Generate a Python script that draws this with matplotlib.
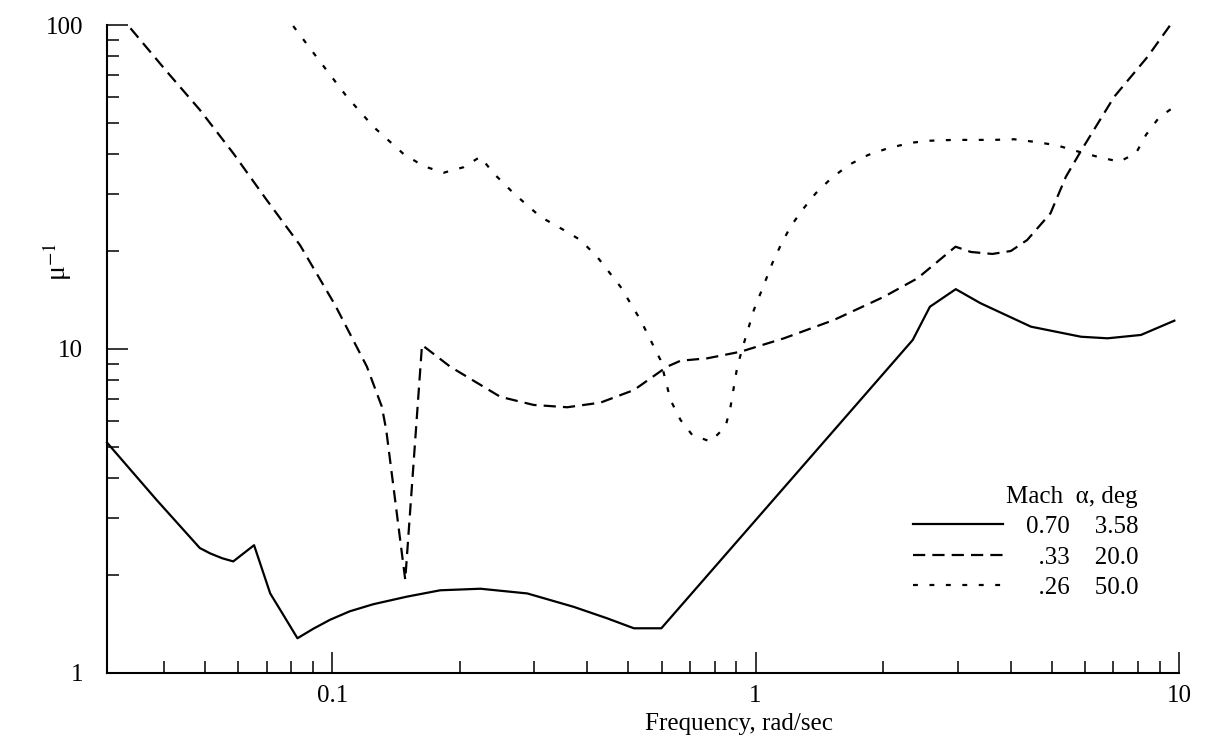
import matplotlib
matplotlib.use("Agg")
import matplotlib.pyplot as plt
from matplotlib.ticker import FixedLocator, NullFormatter

plt.rcParams['font.family'] = ['Liberation Serif', 'DejaVu Serif']
plt.rcParams['mathtext.fontset'] = 'stix'

# Mach 0.70, alpha 3.58 deg
freq_a = [0.0294, 0.0385, 0.0487, 0.0515, 0.0550, 0.0584, 0.0654, 0.0714, 0.0767,
          0.0828, 0.0903, 0.0989, 0.110, 0.125, 0.150, 0.180, 0.224, 0.289, 0.372,
          0.446, 0.516, 0.599, 2.35, 2.58, 2.97, 3.40, 4.47, 5.87, 6.78, 8.13, 9.75]
mu_a = [5.14, 3.42, 2.43, 2.34, 2.26, 2.21, 2.48, 1.76, 1.51,
        1.28, 1.37, 1.46, 1.55, 1.63, 1.72, 1.80, 1.82, 1.76, 1.60,
        1.475, 1.374, 1.374, 10.66, 13.5, 15.3, 13.84, 11.72, 10.91, 10.79, 11.05, 12.23]

# Mach .33, alpha 20.0 deg
freq_b = [0.0334, 0.0407, 0.0487, 0.0584, 0.0701, 0.0840, 0.1016, 0.1208, 0.131,
          0.1342, 0.1488, 0.163, 0.190, 0.2495, 0.299, 0.359, 0.430, 0.516, 0.618,
          0.665, 0.769, 0.922, 1.167, 1.531, 2.011, 2.412, 2.966, 3.224, 3.624,
          4.008, 4.38, 4.971, 5.406, 5.885, 7.031, 8.433, 9.663]
mu_b = [97.7, 71.8, 54.7, 40.2, 28.8, 20.9, 13.67, 8.82, 6.64,
        5.62, 1.94, 10.29, 8.82, 7.12, 6.72, 6.61, 6.83, 7.47, 8.82,
        9.20, 9.36, 9.81, 10.79, 12.29, 14.5, 16.53, 20.69, 19.93, 19.65,
        20.07, 21.7, 26.23, 34.02, 41.13, 60.06, 79.85, 102.4]

# Mach .26, alpha 50.0 deg
freq_c = [0.0809, 0.0937, 0.1083, 0.1252, 0.1474, 0.1643, 0.1833, 0.2044, 0.2238,
          0.2406, 0.2683, 0.3102, 0.3522, 0.3857, 0.4223, 0.4796, 0.5349, 0.5962,
          0.6296, 0.6648, 0.7084, 0.7826, 0.8493, 0.8728, 0.9052, 0.9383, 0.9908,
          1.046, 1.095, 1.147, 1.209, 1.289, 1.387, 1.509, 1.659, 1.844, 2.049,
          2.325, 2.593, 2.934, 3.66, 4.08, 4.549, 5.119, 5.812, 6.425, 7.225,
          7.913, 8.356, 8.98, 9.80]
mu_c = [99.3, 77.0, 60.1, 48.5, 40.0, 36.7, 35.0, 36.4, 39.2,
        34.85, 30.24, 25.6, 23.3, 21.7, 19.27, 15.57, 12.29, 9.25,
        6.96, 6.04, 5.43, 5.18, 5.76, 6.64, 8.82, 10.41, 13.2,
        15.76, 18.39, 20.94, 23.85, 26.85, 30.24, 33.64, 36.98, 39.7, 41.6,
        43.3, 43.95, 44.2, 44.2, 44.4, 43.6, 42.6, 40.6, 39.2, 37.85,
        40.2, 45.8, 51.9, 56.2]

mach = ['0.70', '  .33', '  .26']
alpha = ['3.58', '20.0', '50.0']

fig = plt.figure(figsize=(12.08, 7.42), dpi=100)
ax = fig.add_axes([0.0883, 0.093, 0.8877, 0.8733])

l1, = ax.plot(freq_a, mu_a, color='black', lw=1.6, clip_on=False)
l2, = ax.plot(freq_b, mu_b, color='black', lw=1.6, linestyle=(0, (5.5, 3.2)), clip_on=False)
l3, = ax.plot(freq_c, mu_c, color='black', lw=1.6, linestyle=(0, (2.2, 5.2)), clip_on=False)

ax.set_xscale('log')
ax.set_yscale('log')
ax.set_xlim(0.02934, 10)
ax.set_ylim(1, 100)

ax.xaxis.set_major_locator(FixedLocator([0.1, 1, 10]))
ax.xaxis.set_minor_locator(FixedLocator([0.04, 0.05, 0.06, 0.07, 0.08, 0.09,
                                         0.2, 0.3, 0.4, 0.5, 0.6, 0.7, 0.8, 0.9,
                                         2, 3, 4, 5, 6, 7, 8, 9]))
ax.set_xticklabels(['0.1', '1', '10'])
ax.xaxis.set_minor_formatter(NullFormatter())
ax.yaxis.set_major_locator(FixedLocator([1, 10, 100]))
ax.yaxis.set_minor_locator(FixedLocator([2, 3, 4, 5, 6, 7, 8, 9,
                                         20, 30, 40, 50, 60, 70, 80, 90]))
ax.set_yticklabels(['1', '10', '100'])
ax.yaxis.set_minor_formatter(NullFormatter())

ax.tick_params(which='major', direction='in', length=15, width=1.1, labelsize=18)
ax.tick_params(axis='x', which='major', pad=9)
ax.tick_params(axis='y', which='major', pad=17)
ax.tick_params(which='minor', direction='in', length=8.5, width=1.1)

for s in ['top', 'right']:
    ax.spines[s].set_visible(False)
for s in ['left', 'bottom']:
    ax.spines[s].set_linewidth(1.5)

ax.set_xlabel('Frequency, rad/sec', fontsize=18)
ax.xaxis.set_label_coords(0.59, -0.062)
ax.set_ylabel('μ$^{-1}$', fontsize=20)
ax.yaxis.set_label_coords(-0.03, 0.635)

labels = [m + '    ' + a for m, a in zip(mach, alpha)]
leg = ax.legend([l1, l2, l3], labels, title='Mach  α, deg', loc='lower left',
                bbox_to_anchor=(0.752, 0.114), frameon=False, fontsize=18,
                title_fontsize=18, handlelength=3.6, handletextpad=0.9,
                labelspacing=0.32, borderpad=0, borderaxespad=0, alignment='right')

fig.savefig('out.png', dpi=100)
